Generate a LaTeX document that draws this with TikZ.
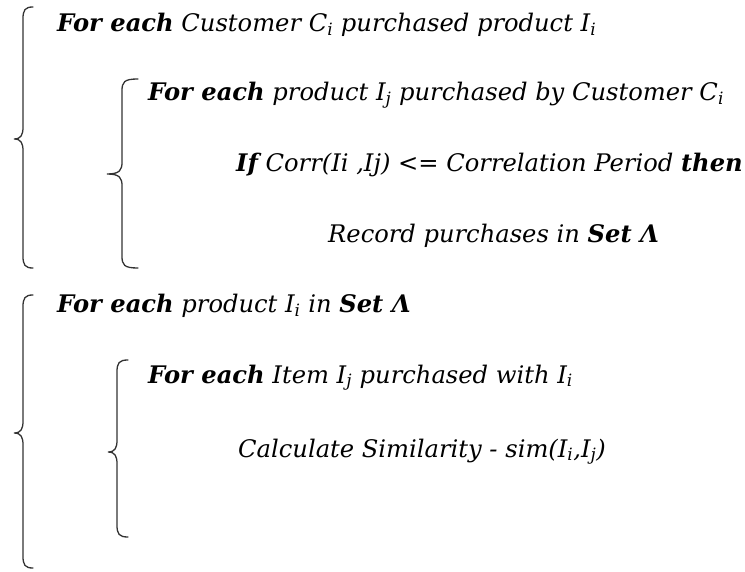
\documentclass[tikz,border=0pt]{standalone}
\usepackage{fontspec}
\setmainfont{DejaVu Serif}
\usepackage{tikz}
\newcommand{\kw}[1]{\textbf{#1}}
\newcommand{\sub}[1]{\textsubscript{#1}}

\begin{document}
\begin{tikzpicture}[x=1pt, y=-1pt,
  every node/.style={anchor=base west, inner sep=0pt, font=\itshape\fontsize{24.2}{28}\selectfont},
  bracepath/.style={line width=1.3pt, black!80, line cap=round}]
 \useasboundingbox (0,0) rectangle (745,572);

 % braces: vertical x / top / tip / bottom / curl width / tip width
 \foreach \xv/\yt/\ym/\yb/\wt/\wm in {23/7/139/268/10/9, 122/79/174/268/16/15, 23/295/433/568/10/9, 117/360/452/537/11/9}
 {
   \draw[bracepath] (\xv+\wt,\yt) .. controls (\xv+2,\yt) and (\xv,\yt+3) .. (\xv,\yt+12)
     -- (\xv,\ym-12) .. controls (\xv,\ym-4) and (\xv-2,\ym) .. (\xv-\wm,\ym)
     .. controls (\xv-2,\ym) and (\xv,\ym+4) .. (\xv,\ym+12)
     -- (\xv,\yb-12) .. controls (\xv,\yb-3) and (\xv+2,\yb) .. (\xv+\wt,\yb);
 }

 % first loop
 \node (cust) at (57,32) {\kw{For each} Customer C\sub{i} purchased product I\sub{i}};
 \node (prod) at (148,101) {\kw{For each} product I\sub{j} purchased by Customer C\sub{i}};
 \node (corr) at (236,172) {\kw{If} Corr(Ii ,Ij) <= Correlation Period \kw{then}};
 \node (rec) at (328,243) {Record purchases in \kw{Set Λ}};

 % second loop
 \node (inset) at (57,313) {\kw{For each} product I\sub{i} in \kw{Set Λ}};
 \node (item) at (148,383) {\kw{For each} Item I\sub{j} purchased with I\sub{i}};
 \node (sim) at (238,457) {Calculate Similarity - sim(I\sub{i},I\sub{j})};
\end{tikzpicture}
\end{document}
